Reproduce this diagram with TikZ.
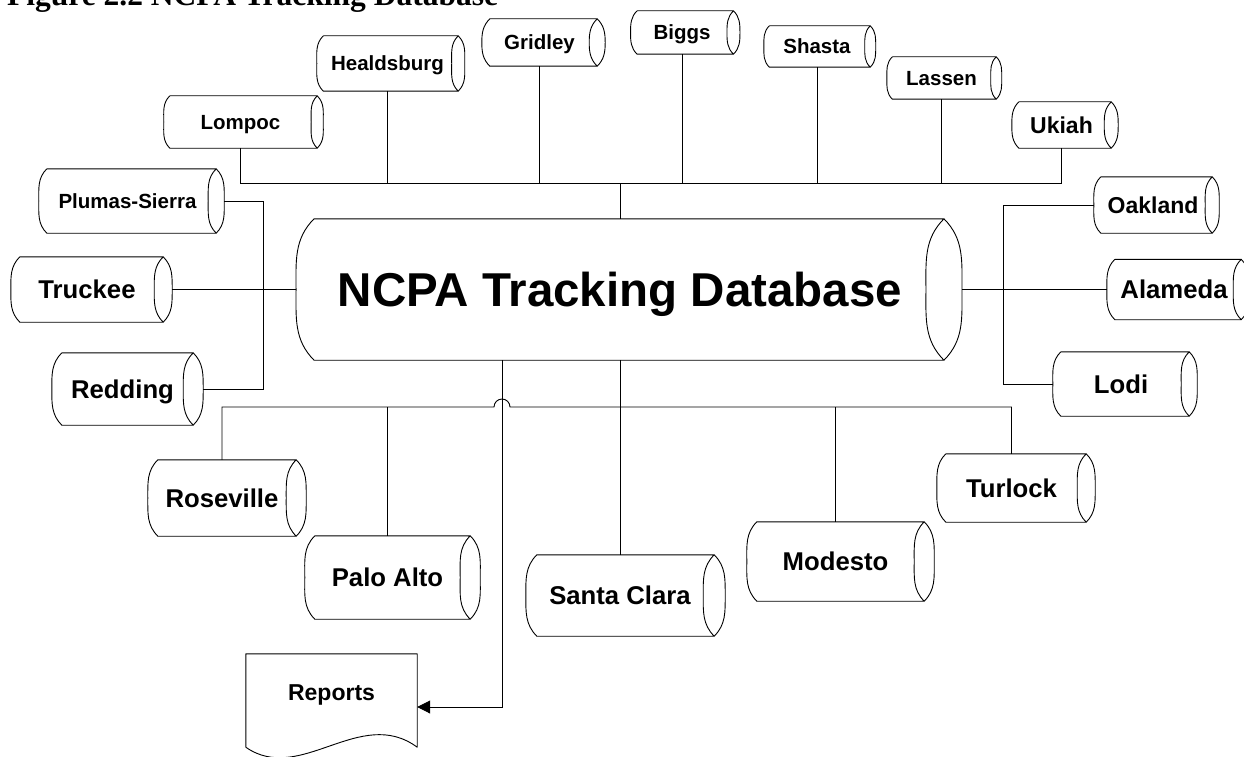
\documentclass[tikz,border=0pt]{standalone}
\usepackage{fontspec}
\setmainfont{Liberation Serif}
\setsansfont{Liberation Sans}
\usetikzlibrary{arrows.meta}

\begin{document}
\begin{tikzpicture}[
    x=1pt,y=-1pt,
    link/.style={line width=0.9pt},
    feed/.style={line width=0.9pt,-{Triangle[length=13pt,width=13pt]}},
    dbshape/.style={append after command={\pgfextra{
        \draw[line width=0.9pt,line join=round]
        ([xshift=#1pt]\tikzlastnode.north west) -- (\tikzlastnode.north east)
        to[out=-45,in=90] ([xshift=#1pt]\tikzlastnode.east)
        to[out=-90,in=45] (\tikzlastnode.south east)
        -- ([xshift=#1pt]\tikzlastnode.south west)
        to[out=135,in=-90] (\tikzlastnode.west)
        to[out=90,in=225] ([xshift=#1pt]\tikzlastnode.north west)
        (\tikzlastnode.north east) to[out=225,in=90] ([xshift=-#1pt]\tikzlastnode.east)
        to[out=-90,in=135] (\tikzlastnode.south east);}}},
    db/.style n args={3}{inner sep=0pt,minimum width=#1pt,minimum height=#2pt,text depth=0pt,dbshape=#3},
    doc/.style={inner sep=0pt,minimum width=171pt,minimum height=93pt,text height=16.5pt,text depth=17.5pt,
        append after command={\pgfextra{
        \draw[line width=0.9pt,line join=round]
        (\tikzlastnode.north west) -- (\tikzlastnode.north east) -- (\tikzlastnode.south east)
        .. controls ([xshift=-57pt,yshift=42pt]\tikzlastnode.south east)
        and ([xshift=-117pt,yshift=-38pt]\tikzlastnode.south east) .. (\tikzlastnode.south west)
        -- cycle;}}},
    town/.style={font=\sffamily\bfseries\fontsize{20.5}{24}\selectfont,text height=14.7pt},
    townm/.style={font=\sffamily\bfseries\fontsize{23}{27}\selectfont,text height=16.5pt},
    townl/.style={font=\sffamily\bfseries\fontsize{25.7}{30}\selectfont,text height=18.4pt},
    hub/.style={font=\sffamily\bfseries\fontsize{47.5}{54}\selectfont,text height=34pt}
]
\useasboundingbox (0,0) rectangle (1244,757);

\node[anchor=base west,inner sep=0pt,font=\rmfamily\bfseries\fontsize{31.5}{36}\selectfont] (title) at (7,6) {Figure 2.2 NCPA Tracking Database};

% central database
\node[db={647.5}{141}{18},hub] (ncpa) at (620,289.5) {NCPA Tracking Database};

% top row
\node[db={153}{52}{6},town] (lompoc) at (240.5,122) {Lompoc};
\node[db={141}{55}{6.5},town] (healdsburg) at (387.5,63.5) {Healdsburg};
\node[db={115}{47}{8},town] (gridley) at (539.5,42.5) {Gridley};
\node[db={102.5}{43}{6.5},town] (biggs) at (682,32.5) {Biggs};
\node[db={106}{41}{5.5},town] (shasta) at (817,46.5) {Shasta};
\node[db={109}{42}{5.5},town] (lassen) at (941.5,78) {Lassen};
\node[db={99}{46}{7},townm] (ukiah) at (1061.5,125) {Ukiah};

% left side
\node[db={177}{64}{8},town] (plumas) at (127.5,201) {Plumas-Sierra};
\node[db={152}{65}{9},townl] (truckee) at (87,289.5) {Truckee};
\node[db={141}{72}{10},townl] (redding) at (122.5,389) {Redding};

% right side
\node[db={118}{56}{7},townm] (oakland) at (1153,205) {Oakland};
\node[db={134}{60}{8},townl] (alameda) at (1174,289.5) {Alameda};
\node[db={136}{64}{8},townl] (lodi) at (1121,384) {Lodi};

% bottom row
\node[db={148}{76}{10},townl] (roseville) at (222,498) {Roseville};
\node[db={165}{83}{10},townl] (paloalto) at (387.5,577.5) {Palo Alto};
\node[db={188}{81}{11},townl] (santaclara) at (620,595.5) {Santa Clara};
\node[db={177}{79}{10},townl] (modesto) at (835.5,561.5) {Modesto};
\node[db={149}{68}{9},townl] (turlock) at (1011.5,488) {Turlock};

\node[doc,townm,text height=16.5pt,text depth=17.5pt] (reports) at (331.5,700.5) {Reports};

\coordinate (topbus) at (620,183);
\coordinate (lowbus) at (620,407);
\coordinate (hop) at (502,407);
\coordinate (ljoin) at (263,289.5);
\coordinate (rjoin) at (1003,289.5);

\draw[link] (ncpa.north) -- (topbus);
\foreach \n in {lompoc,healdsburg,gridley,biggs,shasta,lassen,ukiah}
  \draw[link] (\n.south) |- (topbus);

\draw[link] ([xshift=8pt]plumas.east) -| (ljoin);
\draw[link] ([xshift=10pt]redding.east) -| (ljoin);
\draw[link] ([xshift=9pt]truckee.east) -- (ncpa.west);

\draw[link] (oakland.west) -| (rjoin);
\draw[link] (lodi.west) -| (rjoin);
\draw[link] ([xshift=18pt]ncpa.east) -- (alameda.west);

\draw[link] (ncpa.south) -- (santaclara.north);
\draw[link] (roseville.north) |- ([xshift=-8pt]hop) arc[start angle=180,end angle=0,radius=8pt] -| (turlock.north);
\draw[link] (paloalto.north) -- (paloalto.north |- lowbus);
\draw[link] (modesto.north) -- (modesto.north |- lowbus);
\draw[feed] ([xshift=-118pt]ncpa.south) |- ([yshift=-6.5pt]reports.east);
\end{tikzpicture}
\end{document}
